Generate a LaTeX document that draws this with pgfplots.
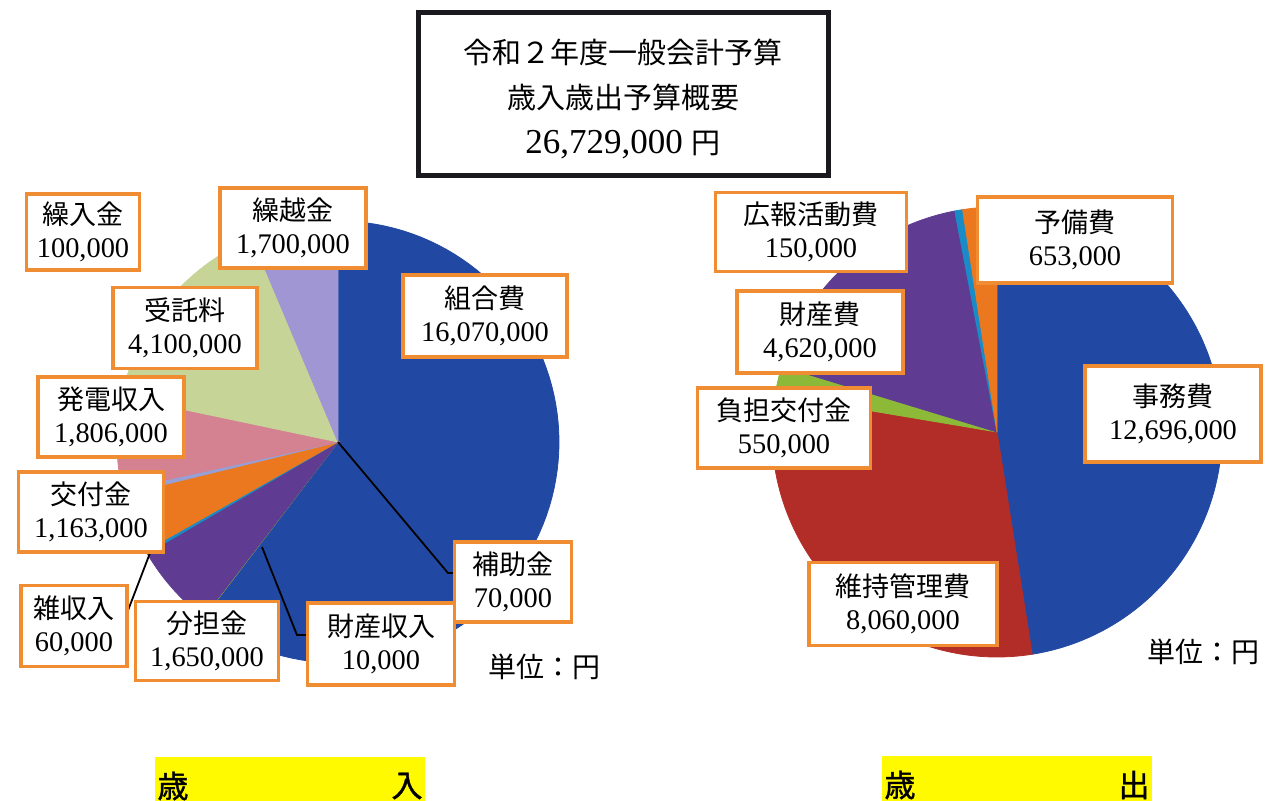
\documentclass[border=0pt]{standalone}
\usepackage{fontspec}
\setmainfont{Liberation Serif}
\newfontfamily\cjk{Noto Sans CJK JP}
\newfontfamily\cjkb{Noto Sans CJK JP}[FakeBold=1.2]
\usepackage{pgfplots}
\pgfplotsset{compat=1.18}

\definecolor{pBlue}{RGB}{33,73,163}
\definecolor{pRed}{RGB}{178,45,40}
\definecolor{pGreen}{RGB}{140,185,55}
\definecolor{pPurple}{RGB}{95,60,145}
\definecolor{pAqua}{RGB}{25,140,200}
\definecolor{pOrange}{RGB}{235,120,30}
\definecolor{pLtBlue}{RGB}{150,160,215}
\definecolor{pPink}{RGB}{212,130,145}
\definecolor{pLtGreen}{RGB}{198,212,152}
\definecolor{pLavender}{RGB}{160,150,212}
\definecolor{boxOrange}{RGB}{240,140,50}
\definecolor{titleBlack}{RGB}{25,25,30}
\definecolor{hlYellow}{RGB}{255,250,0}

% values in yen / slice colour (clockwise from 12 o'clock)
% 歳入: 組合費, 補助金, 財産収入, 分担金, 雑収入, 交付金, 繰入金, 発電収入, 受託料, 繰越金
\def\incomeData{16070000/pBlue,70000/pBlue,10000/pGreen,1650000/pPurple,60000/pAqua,1163000/pOrange,100000/pLtBlue,1806000/pPink,4100000/pLtGreen,1700000/pLavender}
% 歳出: 事務費, 維持管理費, 負担交付金, 財産費, 広報活動費, 予備費
\def\expenseData{12696000/pBlue,8060000/pRed,550000/pGreen,4620000/pPurple,150000/pAqua,653000/pOrange}

\newcommand\drawpie[4]{%
  \gdef\pieacc{0}\gdef\pietot{0}%
  \foreach \pv/\pc in #4 {\xdef\pietot{\fpeval{\pietot+\pv}}}%
  \foreach \pv/\pc in #4 {%
    \edef\pieA{\fpeval{round(360*\pieacc/\pietot,4)}}%
    \xdef\pieacc{\fpeval{\pieacc+\pv}}%
    \edef\pieB{\fpeval{round(360*\pieacc/\pietot,4)}}%
    \edef\temp{\noexpand\addplot[fill=\pc, draw=\pc, line width=0.4pt, domain=\pieA:\pieB, samples=90, variable=\noexpand\t] ({#1+#3*sin(\noexpand\t)},{#2-#3*cos(\noexpand\t)}) -- (axis cs:#1,#2) -- cycle;}%
    \temp
  }%
}

\newcommand\lbl[6]{%
  \node[draw=boxOrange, line width=1.6pt, fill=white, minimum width=#3*0.5pt, minimum height=#4*0.5pt,
        inner sep=0pt, align=center, font=\fontsize{14.2}{16.5}\selectfont]
    at (axis cs:#1,#2) {{\cjk\fontsize{13.5}{16.5}\selectfont #5}\\#6};}

\begin{document}
\begin{tikzpicture}
\begin{axis}[scale only axis, width=632.5pt, height=400pt,
  xmin=0, xmax=1265, ymin=0, ymax=800, y dir=reverse,
  hide axis, clip=false]

\drawpie{338}{442}{221}{\incomeData}
\drawpie{997}{432}{225}{\expenseData}

% leader lines
\addplot[black, line width=0.9pt] coordinates {(338,442) (448,573) (456,573)};
\addplot[black, line width=0.9pt] coordinates {(262,547) (297,635) (308,635)};
\addplot[black, line width=0.9pt] coordinates {(150,553) (127,613)};

% income labels
\lbl{83}{232}{113}{76}{繰入金}{100,000}
\lbl{293}{228}{146}{80}{繰越金}{1,700,000}
\lbl{485}{316}{164}{82}{組合費}{16,070,000}
\lbl{185}{328}{144}{81}{受託料}{4,100,000}
\lbl{111}{417}{146}{80}{発電収入}{1,806,000}
\lbl{91}{512}{145}{80}{交付金}{1,163,000}
\lbl{74}{626}{106}{81}{雑収入}{60,000}
\lbl{207}{641}{143}{79}{分担金}{1,650,000}
\lbl{381}{644}{147}{82}{財産収入}{10,000}
\lbl{513}{582}{117}{80}{補助金}{70,000}

% expense labels
\lbl{811}{232}{191}{79}{広報活動費}{150,000}
\lbl{1075}{240}{195}{86}{予備費}{653,000}
\lbl{820}{332}{166}{82}{財産費}{4,620,000}
\lbl{784}{428}{173}{80}{負担交付金}{550,000}
\lbl{1173}{414}{176}{96}{事務費}{12,696,000}
\lbl{903}{604}{188}{83}{維持管理費}{8,060,000}

% unit notes
\node[font=\cjk\fontsize{14}{16}\selectfont] at (axis cs:544,667) {単位：円};
\node[font=\cjk\fontsize{14}{16}\selectfont] at (axis cs:1203,652) {単位：円};

% title box
\node[draw=titleBlack, line width=2.5pt, fill=white, minimum width=205pt, minimum height=81.5pt, inner sep=0pt]
  at (axis cs:623,93.5) {};
\node[font=\cjk\fontsize{14.5}{16}\selectfont] at (axis cs:623,52) {令和２年度一般会計予算};
\node[font=\cjk\fontsize{14.5}{16}\selectfont] at (axis cs:623,97) {歳入歳出予算概要};
\node[font=\fontsize{17.5}{20}\selectfont] at (axis cs:623,145) {26,729,000 {\cjk\fontsize{14.5}{16}\selectfont 円}};

% yellow captions
\node[fill=hlYellow, minimum width=135pt, minimum height=28pt, inner sep=0pt] at (axis cs:290,785) {};
\node[fill=hlYellow, minimum width=135pt, minimum height=28pt, inner sep=0pt] at (axis cs:1017,784) {};
\node[font=\cjkb\fontsize{15.5}{17}\selectfont] at (axis cs:173,786) {歳};
\node[font=\cjkb\fontsize{15.5}{17}\selectfont] at (axis cs:407,786) {入};
\node[font=\cjkb\fontsize{15.5}{17}\selectfont] at (axis cs:900,785) {歳};
\node[font=\cjkb\fontsize{15.5}{17}\selectfont] at (axis cs:1134,785) {出};

\end{axis}
\pgfresetboundingbox
\useasboundingbox (current axis.south west) rectangle (current axis.north east);
\end{tikzpicture}
\end{document}
